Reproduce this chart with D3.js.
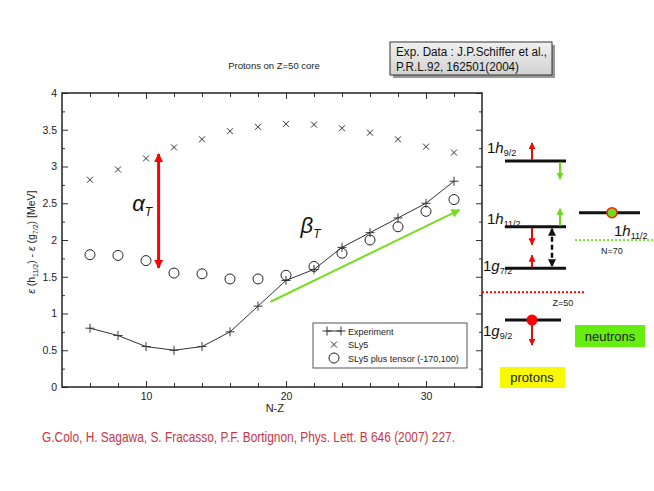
<!DOCTYPE html>
<html>
<head>
<meta charset="utf-8">
<script src="https://cdn.jsdelivr.net/npm/d3@7"></script>
<style>
  body { margin: 0; background: #fff; }
  text { font-family: "Liberation Sans", Arial, sans-serif; }
</style>
</head>
<body>
<div id="chart"></div>
<script>
// data
const nz = [6, 8, 10, 12, 14, 16, 18, 20, 22, 24, 26, 28, 30, 32];
const experiment = [0.80, 0.70, 0.55, 0.50, 0.55, 0.75, 1.10, 1.45, 1.60, 1.90, 2.10, 2.30, 2.50, 2.80];
const sly5 = [2.82, 2.96, 3.11, 3.26, 3.37, 3.48, 3.54, 3.58, 3.57, 3.52, 3.46, 3.37, 3.27, 3.19];
const sly5Tensor = [1.80, 1.79, 1.72, 1.55, 1.54, 1.47, 1.47, 1.52, 1.64, 1.82, 2.00, 2.18, 2.39, 2.55];

const xMajor = [10, 20, 30];
const xMinor = [6, 8, 12, 14, 16, 18, 22, 24, 26, 28, 32];
const yMajor = [0, 0.5, 1, 1.5, 2, 2.5, 3, 3.5, 4];
const yMinor = [0.25, 0.75, 1.25, 1.75, 2.25, 2.75, 3.25, 3.75];
const yLabels = ["0", "0.5", "1", "1.5", "2", "2.5", "3", "3.5", "4"];

const legendNames = ["Experiment", "SLy5", "SLy5 plus tensor (-170,100)"];

// annotation arrows in data units
const alphaArrow = { x: 10.9, y0: 1.62, y1: 3.17 };
const betaArrow = { x0: 18.9, y0: 1.16, x1: 32.4, y1: 2.41 };

// single-particle level scheme (schematic energy units)
const protonLevels = [
    { name: "h", sub: "9/2", e: 10 },
    { name: "h", sub: "11/2", e: 5.87 },
    { name: "g", sub: "7/2", e: 3.25 },
    { name: "g", sub: "9/2", e: 0 }
];
const neutronLevel = { name: "h", sub: "11/2", e: 6.75 };
const protonGap = 1.74;   // Z=50
const neutronGap = 5.03;  // N=70
// shifts: level, direction (+1 up), colour
const shifts = [
    { e: 10, col: "p", dir: 1, c: "#ff0000" },
    { e: 10, col: "n", dir: -1, c: "#66dd11" },
    { e: 5.87, col: "n", dir: 1, c: "#66dd11" },
    { e: 5.87, col: "p", dir: -1, c: "#ff0000" },
    { e: 3.25, col: "p", dir: 1, c: "#ff0000" },
    { e: 0, col: "p", dir: -1, c: "#ff0000" }
];

const W = 654, H = 491;
const margin = { top: 93, left: 62 },
    width = 420,
    height = 294;

const svg = d3.select("#chart").append("svg")
    .attr("width", W).attr("height", H);
svg.append("rect").attr("width", W).attr("height", H).attr("fill", "#fff");

const defs = svg.append("defs");
function arrowMarker(id, color, w, l) {
    defs.append("marker")
        .attr("id", id)
        .attr("markerUnits", "userSpaceOnUse")
        .attr("viewBox", "0 -5 10 10")
        .attr("refX", 9).attr("refY", 0)
        .attr("markerWidth", l).attr("markerHeight", w)
        .attr("orient", "auto-start-reverse")
        .append("path").attr("d", "M0,-5L10,0L0,5Z").attr("fill", color);
}
arrowMarker("redBig", "#ff0000", 10, 9);
arrowMarker("green", "#77dd22", 9, 9);
arrowMarker("redSmall", "#ff0000", 7, 7);
arrowMarker("greenSmall", "#66dd11", 7, 7);
arrowMarker("black", "#111", 9, 8);

const g = svg.append("g").attr("transform", `translate(${margin.left},${margin.top})`);

const x = d3.scaleLinear().domain([4, 34]).range([0, width]);
const y = d3.scaleLinear().domain([0, 4]).range([height, 0]);

// axes: ticks inward on all four sides
function drawAxis(axisFn, scale, values, size, labels, transform, pad) {
    const a = axisFn(scale).tickValues(values).tickSizeInner(-size).tickSizeOuter(0).tickPadding(pad || 6);
    if (labels) a.tickFormat((d, i) => labels[i]); else a.tickFormat("");
    const sel = g.append("g").attr("transform", transform).call(a);
    sel.select(".domain").remove();
    sel.selectAll("line").attr("stroke", "#333");
    sel.selectAll("text").attr("font-size", 10.5).attr("fill", "#222");
    return sel;
}
drawAxis(d3.axisBottom, x, xMajor, 6, xMajor.map(String), `translate(0,${height})`, 6);
drawAxis(d3.axisBottom, x, xMinor, 4, null, `translate(0,${height})`);
drawAxis(d3.axisTop, x, xMajor, 6, null, "translate(0,0)");
drawAxis(d3.axisTop, x, xMinor, 4, null, "translate(0,0)");
drawAxis(d3.axisLeft, y, yMajor, 6, yLabels, "translate(0,0)", 5);
drawAxis(d3.axisLeft, y, yMinor, 3, null, "translate(0,0)");
drawAxis(d3.axisRight, y, yMajor, 6, null, `translate(${width},0)`);
drawAxis(d3.axisRight, y, yMinor, 3, null, `translate(${width},0)`);

g.append("rect").attr("width", width).attr("height", height)
    .attr("fill", "none").attr("stroke", "#222").attr("stroke-width", 1.5);

// axis titles
g.append("text").attr("x", x(19.2)).attr("y", height + 25)
    .attr("text-anchor", "middle").attr("font-size", 11).attr("fill", "#222").text("N-Z");

const yt = g.append("text")
    .attr("transform", `translate(-27,${y(1.97)}) rotate(-90)`)
    .attr("text-anchor", "middle").attr("font-size", 10.5).attr("fill", "#222");
yt.append("tspan").attr("font-style", "italic").text("ε");
yt.append("tspan").text(" (h");
yt.append("tspan").attr("font-size", 7).attr("dy", 3).text("11/2");
yt.append("tspan").attr("dy", -3).text(") - ");
yt.append("tspan").attr("font-style", "italic").text("ε");
yt.append("tspan").text(" (g");
yt.append("tspan").attr("font-size", 7).attr("dy", 3).text("7/2");
yt.append("tspan").attr("dy", -3).text(")  [MeV]");

svg.append("text").attr("x", 274).attr("y", 69).attr("text-anchor", "middle")
    .attr("font-size", 9.5).attr("fill", "#222").text("Protons on Z=50 core");

// series
const expData = nz.map((d, i) => ({ x: d, y: experiment[i] }));
g.append("path").datum(expData)
    .attr("fill", "none").attr("stroke", "#333").attr("stroke-width", 1)
    .attr("d", d3.line().x(d => x(d.x)).y(d => y(d.y)));

const plusPath = "M-4.5,0H4.5M0,-4.5V4.5";
const crossPath = "M-3,-3L3,3M-3,3L3,-3";

g.selectAll(".exp").data(expData).enter().append("path")
    .attr("class", "exp")
    .attr("transform", d => `translate(${x(d.x)},${y(d.y)})`)
    .attr("d", plusPath).attr("stroke", "#333").attr("stroke-width", 1);

g.selectAll(".sly5").data(nz.map((d, i) => ({ x: d, y: sly5[i] }))).enter().append("path")
    .attr("class", "sly5")
    .attr("transform", d => `translate(${x(d.x)},${y(d.y)})`)
    .attr("d", crossPath).attr("stroke", "#333").attr("stroke-width", 1);

g.selectAll(".tensor").data(nz.map((d, i) => ({ x: d, y: sly5Tensor[i] }))).enter().append("circle")
    .attr("class", "tensor")
    .attr("cx", d => x(d.x)).attr("cy", d => y(d.y)).attr("r", 5)
    .attr("fill", "none").attr("stroke", "#222").attr("stroke-width", 1);

// annotation arrows
g.append("line")
    .attr("x1", x(alphaArrow.x)).attr("x2", x(alphaArrow.x))
    .attr("y1", y(alphaArrow.y0)).attr("y2", y(alphaArrow.y1))
    .attr("stroke", "#ff0000").attr("stroke-width", 3)
    .attr("marker-start", "url(#redBig)").attr("marker-end", "url(#redBig)");

const at = g.append("text").attr("x", x(9.3) - 4).attr("y", y(2.4))
    .attr("font-family", "Liberation Serif, serif").attr("font-size", 22).attr("font-style", "italic").attr("fill", "#111");
at.append("tspan").text("α");
at.append("tspan").attr("font-size", 12).attr("dy", 5).text("T");

g.append("line")
    .attr("x1", x(betaArrow.x0)).attr("y1", y(betaArrow.y0))
    .attr("x2", x(betaArrow.x1)).attr("y2", y(betaArrow.y1))
    .attr("stroke", "#77dd22").attr("stroke-width", 2)
    .attr("marker-end", "url(#green)");

const bt = g.append("text").attr("x", x(21.4) - 5).attr("y", y(2.1))
    .attr("font-family", "Liberation Serif, serif").attr("font-size", 22).attr("font-style", "italic").attr("fill", "#111");
bt.append("tspan").text("β");
bt.append("tspan").attr("font-size", 12).attr("dy", 5).text("T");

// legend
const lg = svg.append("g").attr("transform", "translate(313,323)");
lg.append("rect").attr("width", 154).attr("height", 45)
    .attr("fill", "#fff").attr("stroke", "#555").attr("stroke-width", 1);
const rows = lg.selectAll(".row").data(legendNames).enter().append("g")
    .attr("transform", (d, i) => `translate(21,${8 + i * 13.5})`);
rows.append("text").attr("x", 14).attr("y", 3.5).attr("font-size", 9).attr("fill", "#222").text(d => d);
const r0 = rows.filter((d, i) => i === 0);
r0.append("line").attr("x1", -7).attr("x2", 7).attr("stroke", "#333");
r0.append("path").attr("d", plusPath).attr("transform", "translate(-7,0)").attr("stroke", "#333");
r0.append("path").attr("d", plusPath).attr("transform", "translate(7,0)").attr("stroke", "#333");
rows.filter((d, i) => i === 1).append("path").attr("d", crossPath).attr("stroke", "#333");
rows.filter((d, i) => i === 2).append("circle").attr("r", 5).attr("fill", "none").attr("stroke", "#222");

// Exp. data box
const eb = svg.append("g").attr("transform", "translate(390,42)");
const grad = defs.append("linearGradient").attr("id", "boxGrad").attr("x1", 0).attr("x2", 0).attr("y1", 0).attr("y2", 1);
grad.append("stop").attr("offset", "0%").attr("stop-color", "#f0f0f0");
grad.append("stop").attr("offset", "100%").attr("stop-color", "#d2d2d2");
eb.append("rect").attr("x", 3).attr("y", 3).attr("width", 162).attr("height", 33).attr("fill", "#999");
eb.append("rect").attr("width", 162).attr("height", 33).attr("fill", "url(#boxGrad)").attr("stroke", "#333").attr("stroke-width", 1);
eb.append("text").attr("x", 6).attr("y", 14).attr("font-size", 12.5).attr("fill", "#111")
    .attr("font-family", "Open Sans, sans-serif")
    .attr("textLength", 151).attr("lengthAdjust", "spacingAndGlyphs")
    .text("Exp. Data : J.P.Schiffer et al.,");
eb.append("text").attr("x", 6).attr("y", 29).attr("font-size", 12.5).attr("fill", "#111")
    .attr("font-family", "Open Sans, sans-serif")
    .attr("textLength", 123).attr("lengthAdjust", "spacingAndGlyphs")
    .text("P.R.L.92, 162501(2004)");

// reference
svg.append("text").attr("x", 42).attr("y", 442).attr("font-size", 15).attr("fill", "#cc3344")
    .attr("textLength", 413).attr("lengthAdjust", "spacingAndGlyphs")
    .text("G.Colo, H. Sagawa, S. Fracasso, P.F. Bortignon, Phys. Lett. B 646 (2007) 227.");

// level scheme
const ly = d3.scaleLinear().domain([0, 10]).range([320, 161]);
const colX = { p: 532, n: 560 };
const levelLabelDy = [-8, -3, 3, 16];

function levelLabel(sel, lev, xPos, yPos) {
    const t = sel.append("text").attr("x", xPos).attr("y", yPos)
        .attr("font-family", "Liberation Serif, serif").attr("font-size", 15).attr("fill", "#111");
    t.append("tspan").text("1");
    t.append("tspan").attr("font-style", "italic").text(lev.name);
    t.append("tspan").attr("font-size", 9).attr("dy", 3).text(lev.sub);
}

const ls = svg.append("g");
ls.selectAll(".plev").data(protonLevels).enter().append("line")
    .attr("x1", 505).attr("x2", (d, i) => i === 3 ? 561 : 566)
    .attr("y1", d => ly(d.e)).attr("y2", d => ly(d.e))
    .attr("stroke", "#111").attr("stroke-width", 3);
protonLevels.forEach((d, i) => levelLabel(ls, d, i >= 2 ? 483 : 487, ly(d.e) + levelLabelDy[i]));

ls.append("line").attr("x1", 579).attr("x2", 640)
    .attr("y1", ly(neutronLevel.e)).attr("y2", ly(neutronLevel.e))
    .attr("stroke", "#111").attr("stroke-width", 3);
levelLabel(ls, neutronLevel, 614, ly(neutronLevel.e) + 23);

// shifts
ls.selectAll(".shift").data(shifts).enter().append("line")
    .attr("x1", d => colX[d.col]).attr("x2", d => colX[d.col])
    .attr("y1", d => ly(d.e) + (d.dir > 0 ? -1 : 1))
    .attr("y2", d => ly(d.e) - d.dir * (d.e === 3.25 ? 13 : d.e === 0 ? 25 : 18))
    .attr("stroke", d => d.c).attr("stroke-width", 2)
    .attr("marker-end", d => d.c === "#ff0000" ? "url(#redSmall)" : "url(#greenSmall)");

// gap arrow
ls.append("line").attr("x1", 552).attr("x2", 552)
    .attr("y1", ly(5.87) + 2).attr("y2", ly(3.25) - 2)
    .attr("stroke", "#111").attr("stroke-width", 2.5).attr("stroke-dasharray", "5,3")
    .attr("marker-start", "url(#black)").attr("marker-end", "url(#black)");

// occupied orbits
ls.append("circle").attr("cx", 532).attr("cy", ly(0)).attr("r", 5.5).attr("fill", "#ff0000");
ls.append("circle").attr("cx", 612).attr("cy", ly(neutronLevel.e)).attr("r", 5)
    .attr("fill", "#66dd22").attr("stroke", "#ff2200").attr("stroke-width", 1.5);

// shell gaps
ls.append("line").attr("x1", 482).attr("x2", 585)
    .attr("y1", ly(protonGap)).attr("y2", ly(protonGap))
    .attr("stroke", "#ff0000").attr("stroke-width", 2).attr("stroke-dasharray", "2,2");
ls.append("text").attr("x", 563).attr("y", ly(protonGap) + 14).attr("text-anchor", "middle")
    .attr("font-size", 9).attr("fill", "#222").text("Z=50");
ls.append("line").attr("x1", 575).attr("x2", 654)
    .attr("y1", ly(neutronGap)).attr("y2", ly(neutronGap))
    .attr("stroke", "#77ee22").attr("stroke-width", 2).attr("stroke-dasharray", "2,2");
ls.append("text").attr("x", 612).attr("y", ly(neutronGap) + 14).attr("text-anchor", "middle")
    .attr("font-size", 9).attr("fill", "#222").text("N=70");

// tags
ls.append("rect").attr("x", 575).attr("y", 325).attr("width", 70).attr("height", 22).attr("fill", "#66ee11");
ls.append("text").attr("x", 610).attr("y", 341).attr("text-anchor", "middle")
    .attr("font-family", "Open Sans, sans-serif").attr("font-size", 13).attr("fill", "#222").text("neutrons");
ls.append("rect").attr("x", 500).attr("y", 367).attr("width", 65).attr("height", 21).attr("fill", "#f8f800");
ls.append("text").attr("x", 532).attr("y", 382).attr("text-anchor", "middle")
    .attr("font-family", "Open Sans, sans-serif").attr("font-size", 13).attr("fill", "#222").text("protons");
</script>
</body>
</html>
